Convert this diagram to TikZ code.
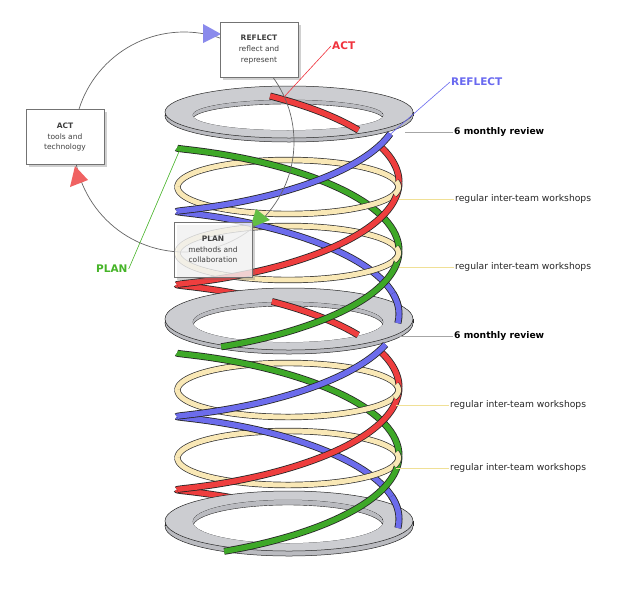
\documentclass[tikz,border=0pt]{standalone}
\usepackage{fontspec}
\setmainfont{DejaVu Sans}
\usetikzlibrary{shadows}
\definecolor{hred}{RGB}{238,62,62}
\definecolor{hblue}{RGB}{108,108,236}
\definecolor{hgreen}{RGB}{62,168,40}
\definecolor{yel}{RGB}{249,232,182}
\definecolor{ringtop}{RGB}{204,205,209}
\definecolor{ringside}{RGB}{186,187,192}
\definecolor{trired}{RGB}{240,98,98}
\definecolor{triblue}{RGB}{138,138,236}
\definecolor{trigreen}{RGB}{98,190,68}
\definecolor{labred}{RGB}{240,50,60}
\definecolor{labblue}{RGB}{105,105,240}
\definecolor{labgreen}{RGB}{70,180,40}
\definecolor{wsline}{RGB}{240,224,150}

\newcommand{\hseg}[4]{%
 \draw[line width=7pt, black!85, line join=round] plot[domain=#3:#4, samples=50] ({288+111*cos(\x r)}, {#2+32.627*\x+30*sin(\x r)});
 \draw[line width=5.4pt, #1, line join=round] plot[domain=#3:#4, samples=50] ({288+111*cos(\x r)}, {#2+32.627*\x+30*sin(\x r)});
}
\newcommand{\yarc}[3]{%
 \draw[line width=6.4pt, black!80] plot[domain=#2:#3, samples=70] ({288+110.5*cos(\x)}, {#1+27*sin(\x)});
 \draw[line width=5pt, yel] plot[domain=#2:#3, samples=70] ({288+110.5*cos(\x)}, {#1+27*sin(\x)});
}
\newcommand{\washer}[5]{%
 \filldraw[fill=ringside, draw=black!85, line width=0.5pt] (289,#1+#5) ellipse [x radius=124pt, y radius=#2pt];
 \fill[ringside] (165,#1) rectangle (413,#1+#5);
 \draw[black!85, line width=0.5pt] (165,#1) -- (165,#1+#5) (413,#1) -- (413,#1+#5);
 \filldraw[fill=ringtop, draw=black!85, line width=0.5pt, even odd rule] (289,#1) ellipse [x radius=124pt, y radius=#2pt] (288,#3) ellipse [x radius=95pt, y radius=#4pt];
 \begin{scope}
  \clip (288,#3) ellipse [x radius=95pt, y radius=#4pt];
  \fill[ringside] (288,#3) ellipse [x radius=95pt, y radius=#4pt];
  \filldraw[fill=white, draw=black!85, line width=0.4pt] (288,#3+#5) ellipse [x radius=95pt, y radius=#4pt];
 \end{scope}
}

\tikzset{
 wslab/.style={anchor=west, inner sep=1pt, font=\fontsize{9.2}{11}\selectfont, text=black!85},
 revlab/.style={anchor=west, inner sep=1pt, font=\bfseries\fontsize{9.2}{11}\selectfont, text=black},
 biglab/.style={anchor=west, inner sep=1pt, font=\bfseries\fontsize{10.5}{12}\selectfont},
 cbox/.style={draw=black!55, fill=white, line width=0.6pt, minimum width=78pt, minimum height=55pt, inner sep=0pt, align=center, font=\fontsize{7.5}{10.8}\selectfont, text=black!75, drop shadow={shadow xshift=2.5pt, shadow yshift=-2.5pt, opacity=0.3, fill=black!60}},
 wsleader/.style={wsline, line width=0.7pt},
 rvleader/.style={black!35, line width=0.6pt},
}

\begin{document}
\begin{tikzpicture}[x=1pt, y=-1pt]
\fill[white] (0,0) rectangle (631,600);
\useasboundingbox (0,0) rectangle (631,600);

% ---- spiral ----
\washer{112}{26}{115}{15}{4}
\yarc{187}{180}{360}
\yarc{253}{180}{360}
\hseg{hgreen}{45.5}{3.1416}{6.2832}
\hseg{hblue}{109}{3.1416}{6.2832}
\hseg{hred}{-22.8}{4.55}{5.40}
\hseg{hred}{-22.8}{5.72}{6.2832}
\hseg{hred}{-22.8}{9.4248}{10.64}
\washer{319}{31}{322}{20}{4}
\yarc{390}{180}{360}
\yarc{458}{180}{360}
\hseg{hgreen}{45.5}{9.4248}{12.5664}
\hseg{hblue}{109}{9.4248}{12.5664}
\hseg{hred}{-22.8}{10.85}{11.68}
\hseg{hred}{-22.8}{12.0}{12.5664}
\hseg{hred}{-22.8}{15.708}{16.92}
\yarc{187}{0}{180}
\yarc{253}{0}{180}
\hseg{hgreen}{45.5}{6.2832}{8.5}
\hseg{hblue}{109}{0.4}{3.1416}
\hseg{hblue}{109}{5.95}{6.43}
\hseg{hred}{-22.8}{6.2832}{9.4248}
\washer{521}{30}{521.5}{21.5}{5}
\yarc{390}{0}{180}
\yarc{458}{0}{180}
\hseg{hgreen}{45.5}{12.5664}{14.75}
\hseg{hblue}{109}{6.78}{9.4248}
\hseg{hblue}{109}{12.2}{12.71}
\hseg{hred}{-22.8}{12.5664}{15.708}
% yellow rings pass over the helices at their right-hand points
\yarc{187}{-12}{16}
\yarc{253}{-12}{16}
\yarc{390}{-12}{16}
\yarc{458}{-12}{16}

% ---- cycle ----
\draw[black!60, line width=0.7pt] (184,142) circle [radius=110pt];
\fill[triblue] (203,24) -- (203,43) -- (221,34) -- cycle;
\fill[trired] (75,166) -- (70,187) -- (88,180) -- cycle;
\fill[trigreen] (250,228) -- (256,209) -- (270,220) -- cycle;
\node[cbox] (reflect) at (259,49.5) {\textbf{REFLECT}\\reflect and\\represent};
\node[cbox] (act) at (65,137) {\textbf{ACT}\\tools and\\technology};
\node[cbox, fill opacity=0.75, text opacity=1, draw opacity=1] (plan) at (213,249.5) {\textbf{PLAN}\\methods and\\collaboration};

% ---- labels ----
\coordinate (actend) at (284,97);
\coordinate (reflend) at (386,138);
\coordinate (planend) at (181,147);
\node[biglab, text=labred] (actlab) at (331,46) {ACT};
\node[biglab, text=labblue] (refllab) at (450,82) {REFLECT};
\node[biglab, text=labgreen] (planlab) at (95,269) {PLAN};
\draw[labred, line width=0.6pt] (actlab.west) -- (actend);
\draw[labblue, line width=0.6pt] (refllab.west) -- (reflend);
\draw[labgreen, line width=0.6pt] (planlab.east) -- (planend);

\coordinate (rv1) at (405,132);
\coordinate (rv2) at (400,336);
\node[revlab] (rev1) at (453,132) {6 monthly review};
\node[revlab] (rev2) at (453,336) {6 monthly review};
\draw[rvleader] (rv1) -- (rev1.west);
\draw[rvleader] (rv2) -- (rev2.west);

\coordinate (w1) at (399,199);
\coordinate (w2) at (399,267);
\coordinate (w3) at (396,405);
\coordinate (w4) at (396,468);
\node[wslab] (ws1) at (454,199) {regular inter-team workshops};
\node[wslab] (ws2) at (454,267) {regular inter-team workshops};
\node[wslab] (ws3) at (449,405) {regular inter-team workshops};
\node[wslab] (ws4) at (449,468) {regular inter-team workshops};
\draw[wsleader] (w1) -- (ws1.west);
\draw[wsleader] (w2) -- (ws2.west);
\draw[wsleader] (w3) -- (ws3.west);
\draw[wsleader] (w4) -- (ws4.west);
\end{tikzpicture}
\end{document}
